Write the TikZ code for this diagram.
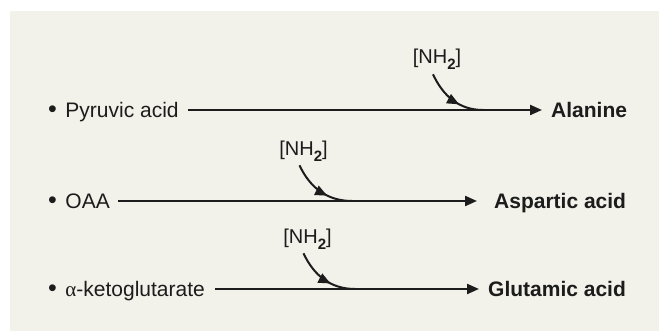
\documentclass[tikz,border=0pt]{standalone}
\usepackage{fontspec}
\setmainfont{Liberation Sans}
\newfontfamily\greekfont{Liberation Serif}
\usetikzlibrary{arrows.meta,decorations.markings}
\definecolor{panel}{HTML}{F2F2EA}
\definecolor{ink}{HTML}{1C1C1C}
\newcommand{\amino}{[NH\raisebox{-0.28em}{\fontsize{15}{15}\selectfont\bfseries 2}]}
\begin{document}
\begin{tikzpicture}[x=1pt,y=1pt,
  lbl/.style={inner sep=0pt, anchor=base west, text=ink, font=\fontsize{21}{24}\selectfont},
  prod/.style={inner sep=0pt, anchor=base west, text=ink, font=\fontsize{21}{24}\selectfont\bfseries},
  amine/.style={inner sep=0pt, anchor=base, text=ink, font=\fontsize{20}{24}\selectfont},
  rxn/.style={draw=ink, line width=2.2pt, -{Triangle[length=12pt,width=10pt]}},
  feed/.style={draw=ink, line width=2pt, postaction={decorate},
    decoration={markings, mark=at position 0.62 with {\arrow[ink]{Triangle[length=12pt,width=10pt]}}}}
]
\useasboundingbox (0,0) rectangle (659,331);
\fill[white] (0,0) rectangle (659,331);
\fill[panel] (10,0) rectangle (659,320);

% sources
\node[lbl] (s1) at (48,213.5) {{\fontsize{25}{24}\selectfont •}\hspace{8.5pt}Pyruvic acid};
\node[lbl] (s2) at (48,122.5) {{\fontsize{25}{24}\selectfont •}\hspace{8.5pt}OAA};
\node[lbl] (s3) at (48,34.5) {{\fontsize{25}{24}\selectfont •}\hspace{8.5pt}{\greekfont α}-ketoglutarate};

% products
\node[prod] (p1) at (551,213.5) {Alanine};
\node[prod] (p2) at (494,122.5) {Aspartic acid};
\node[prod] (p3) at (488,34.5) {Glutamic acid};

% amino groups
\node[amine] (n1) at (437,267.5) {\amino};
\node[amine] (n2) at (303.5,175.5) {\amino};
\node[amine] (n3) at (307.5,87.5) {\amino};

% junctions
\coordinate (j1) at (483,221);
\coordinate (j2) at (352,130);
\coordinate (j3) at (355,42);

% main reactions
\draw[rxn] ([shift={(9pt,7.5pt)}]s1.base east) -- ([shift={(-9pt,7.5pt)}]p1.base west);
\draw[rxn] ([shift={(8pt,7.5pt)}]s2.base east) -- ([shift={(-17pt,7.5pt)}]p2.base west);
\draw[rxn] ([shift={(10pt,7.5pt)}]s3.base east) -- ([shift={(-9pt,7.5pt)}]p3.base west);

% amino feeds
\draw[feed] ([shift={(-4pt,-5pt)}]n1.south) to[out=-65,in=180] (j1);
\draw[feed] ([shift={(-4pt,-4pt)}]n2.south) to[out=-65,in=180] (j2);
\draw[feed] ([shift={(-4pt,-4pt)}]n3.south) to[out=-65,in=180] (j3);
\end{tikzpicture}
\end{document}
